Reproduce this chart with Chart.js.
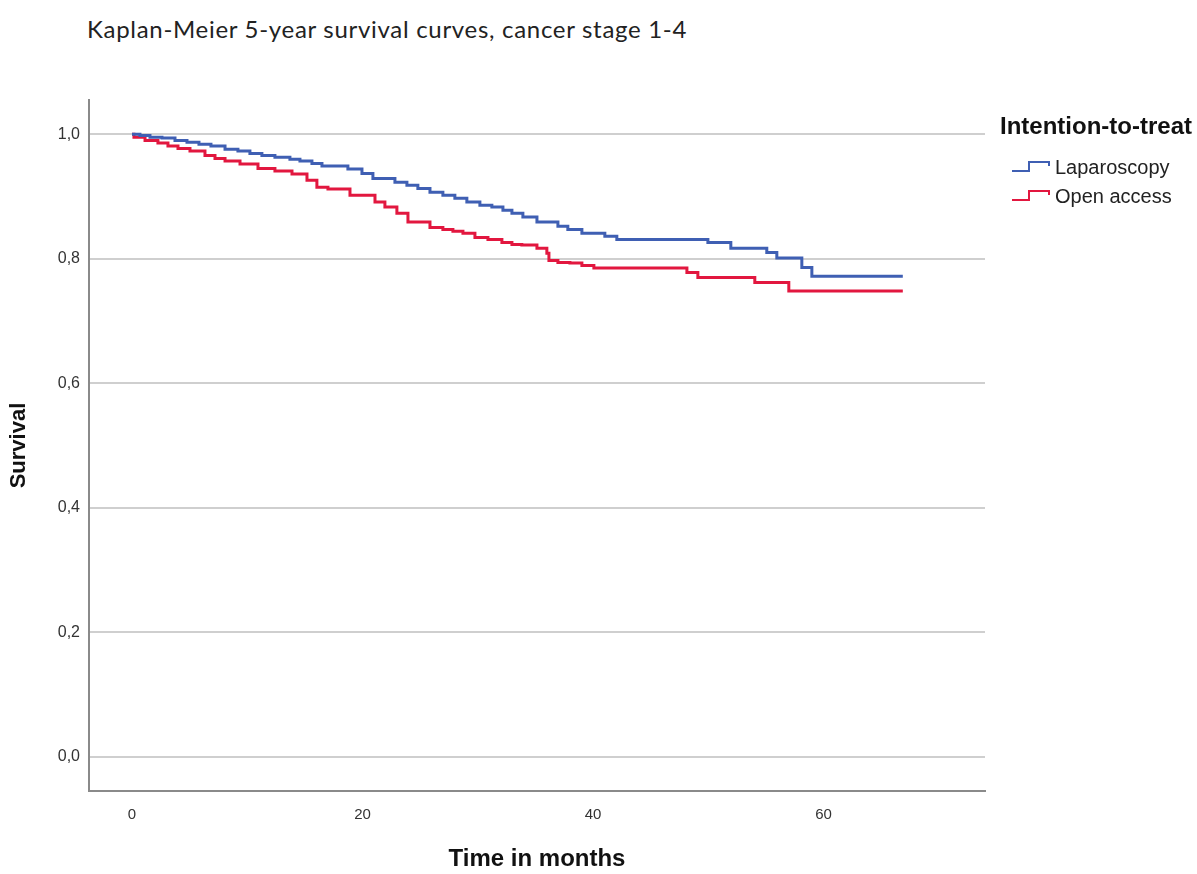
<!DOCTYPE html>
<html>
<head>
<meta charset="utf-8">
<script src="https://cdn.jsdelivr.net/npm/chart.js@4.4.1/dist/chart.umd.min.js"></script>
<style>
  html, body { margin: 0; padding: 0; background: #ffffff; }
  #wrap { position: relative; width: 1197px; height: 874px; }
  #title { position: absolute; left: 87px; top: 17px; font-family: Lato, "Open Sans", sans-serif; font-size: 24px; line-height: 24px; letter-spacing: 0.7px; color: #222; white-space: nowrap; }
  canvas { position: absolute; left: 0; top: 0; }
</style>
</head>
<body>
<div id="wrap">
  <div id="title">Kaplan-Meier 5-year survival curves, cancer stage 1-4</div>
  <canvas id="c" width="1197" height="874"></canvas>
</div>
<script>
// ---- data ----
const lapMonths = [0, 0.69, 1.56, 2.60, 3.73, 4.77, 5.81, 6.85, 8.07, 9.19, 10.23, 11.27, 12.40, 13.70, 14.57, 15.61, 16.48, 18.73, 19.95, 20.90, 22.81, 23.85, 24.80, 25.85, 26.97, 28.01, 29.05, 30.18, 31.22, 32.18, 32.96, 33.91, 35.13, 36.95, 37.81, 39.03, 41.02, 42.06, 49.96, 51.95, 55.07, 55.94, 58.11, 58.98, 66.87];
const lapSurvival = [1.000, 0.998, 0.995, 0.994, 0.990, 0.987, 0.984, 0.981, 0.976, 0.973, 0.969, 0.966, 0.963, 0.960, 0.957, 0.953, 0.949, 0.944, 0.937, 0.929, 0.923, 0.918, 0.913, 0.907, 0.902, 0.897, 0.891, 0.886, 0.883, 0.878, 0.873, 0.867, 0.859, 0.852, 0.847, 0.841, 0.836, 0.831, 0.826, 0.817, 0.810, 0.801, 0.786, 0.772, 0.772];
const openMonths = [0, 0.17, 1.13, 2.25, 3.12, 3.99, 5.03, 6.33, 7.20, 8.07, 9.37, 10.93, 12.40, 13.88, 15.18, 16.04, 17.00, 18.91, 21.08, 21.94, 22.98, 23.94, 25.85, 26.97, 27.84, 28.71, 29.75, 30.88, 32.09, 32.96, 33.82, 35.13, 35.99, 36.17, 36.95, 37.99, 39.03, 40.07, 48.14, 49.09, 54.03, 56.98, 66.87];
const openSurvival = [1.000, 0.995, 0.990, 0.986, 0.981, 0.977, 0.973, 0.966, 0.961, 0.957, 0.952, 0.945, 0.941, 0.936, 0.926, 0.915, 0.912, 0.902, 0.891, 0.883, 0.873, 0.859, 0.850, 0.847, 0.844, 0.841, 0.834, 0.831, 0.826, 0.823, 0.822, 0.817, 0.809, 0.797, 0.794, 0.793, 0.789, 0.785, 0.778, 0.770, 0.762, 0.748, 0.748];
const seriesNames = ["Laparoscopy", "Open access"];
const legendTitle = "Intention-to-treat";
const xTickValues = [0, 20, 40, 60];
const xTickLabels = ["0", "20", "40", "60"];
const yTickValues = [0, 0.2, 0.4, 0.6, 0.8, 1.0];
const yTickLabels = ["0,0", "0,2", "0,4", "0,6", "0,8", "1,0"];
const xTitle = "Time in months";
const yTitle = "Survival";

const BLUE = "#3f5fb3";
const RED = "#e2173f";

function pts(xs, ys) { return xs.map((x, i) => ({ x: x, y: ys[i] })); }

const legendPlugin = {
  id: "kmLegend",
  afterDraw(chart) {
    const ctx = chart.ctx;
    ctx.save();
    ctx.fillStyle = "#111";
    ctx.font = "bold 24px 'Liberation Sans', Arial, sans-serif";
    ctx.textBaseline = "middle";
    ctx.textAlign = "left";
    ctx.fillText(legendTitle, 1000, 127);
    const rows = [168, 197];
    chart.data.datasets.forEach((ds, i) => {
      const y = rows[i];
      ctx.strokeStyle = ds.borderColor;
      ctx.lineWidth = 2;
      ctx.beginPath();
      ctx.moveTo(1012, y + 3);
      ctx.lineTo(1029, y + 3);
      ctx.lineTo(1029, y - 6);
      ctx.lineTo(1049, y - 6);
      ctx.lineTo(1049, y - 2);
      ctx.stroke();
      ctx.fillStyle = "#222";
      ctx.font = "20px 'Liberation Sans', Arial, sans-serif";
      ctx.fillText(ds.label, 1055, y);
    });
    ctx.restore();
  }
};

new Chart(document.getElementById("c"), {
  type: "line",
  data: {
    datasets: [
      { label: seriesNames[0], data: pts(lapMonths, lapSurvival), borderColor: BLUE, borderWidth: 3, pointRadius: 0, stepped: "before", fill: false },
      { label: seriesNames[1], data: pts(openMonths, openSurvival), borderColor: RED, borderWidth: 3, pointRadius: 0, stepped: "before", fill: false }
    ]
  },
  options: {
    responsive: false,
    animation: false,
    layout: { padding: { left: 0, top: 100, right: 212, bottom: 0 } },
    plugins: { legend: { display: false }, tooltip: { enabled: false }, title: { display: false } },
    scales: {
      x: {
        type: "linear",
        min: -3.73,
        max: 74,
        afterBuildTicks: s => { s.ticks = xTickValues.map(v => ({ value: v })); },
        afterFit: s => { s.height = 83; },
        grid: { display: false, drawTicks: false },
        border: { display: true, color: "#8a8a8a", width: 2 },
        ticks: {
          padding: 15,
          color: "#333",
          font: { family: "'Liberation Sans Narrow', 'Liberation Sans', Arial, sans-serif", size: 15 },
          callback: (v) => { const i = xTickValues.indexOf(v); return i >= 0 ? xTickLabels[i] : ""; }
        },
        title: { display: true, text: xTitle, color: "#111", font: { family: "'Liberation Sans', Arial, sans-serif", size: 24, weight: "bold" }, padding: { top: 0, bottom: 0 } }
      },
      y: {
        type: "linear",
        min: -0.055,
        max: 1.055,
        afterBuildTicks: s => { s.ticks = yTickValues.map(v => ({ value: v })); },
        afterFit: s => { s.width = 89; },
        grid: { display: true, drawTicks: false, color: "#cfcfcf", lineWidth: 2 },
        border: { display: true, color: "#8a8a8a", width: 2 },
        ticks: {
          padding: 9,
          color: "#333",
          font: { family: "'Liberation Sans', Arial, sans-serif", size: 16 },
          callback: (v) => { const i = yTickValues.findIndex(t => Math.abs(t - v) < 1e-9); return i >= 0 ? yTickLabels[i] : ""; }
        },
        title: { display: true, text: yTitle, color: "#111", font: { family: "'Liberation Sans', Arial, sans-serif", size: 22, weight: "bold" }, padding: { top: 6, bottom: 0 } }
      }
    }
  },
  plugins: [legendPlugin]
});
</script>
</body>
</html>
